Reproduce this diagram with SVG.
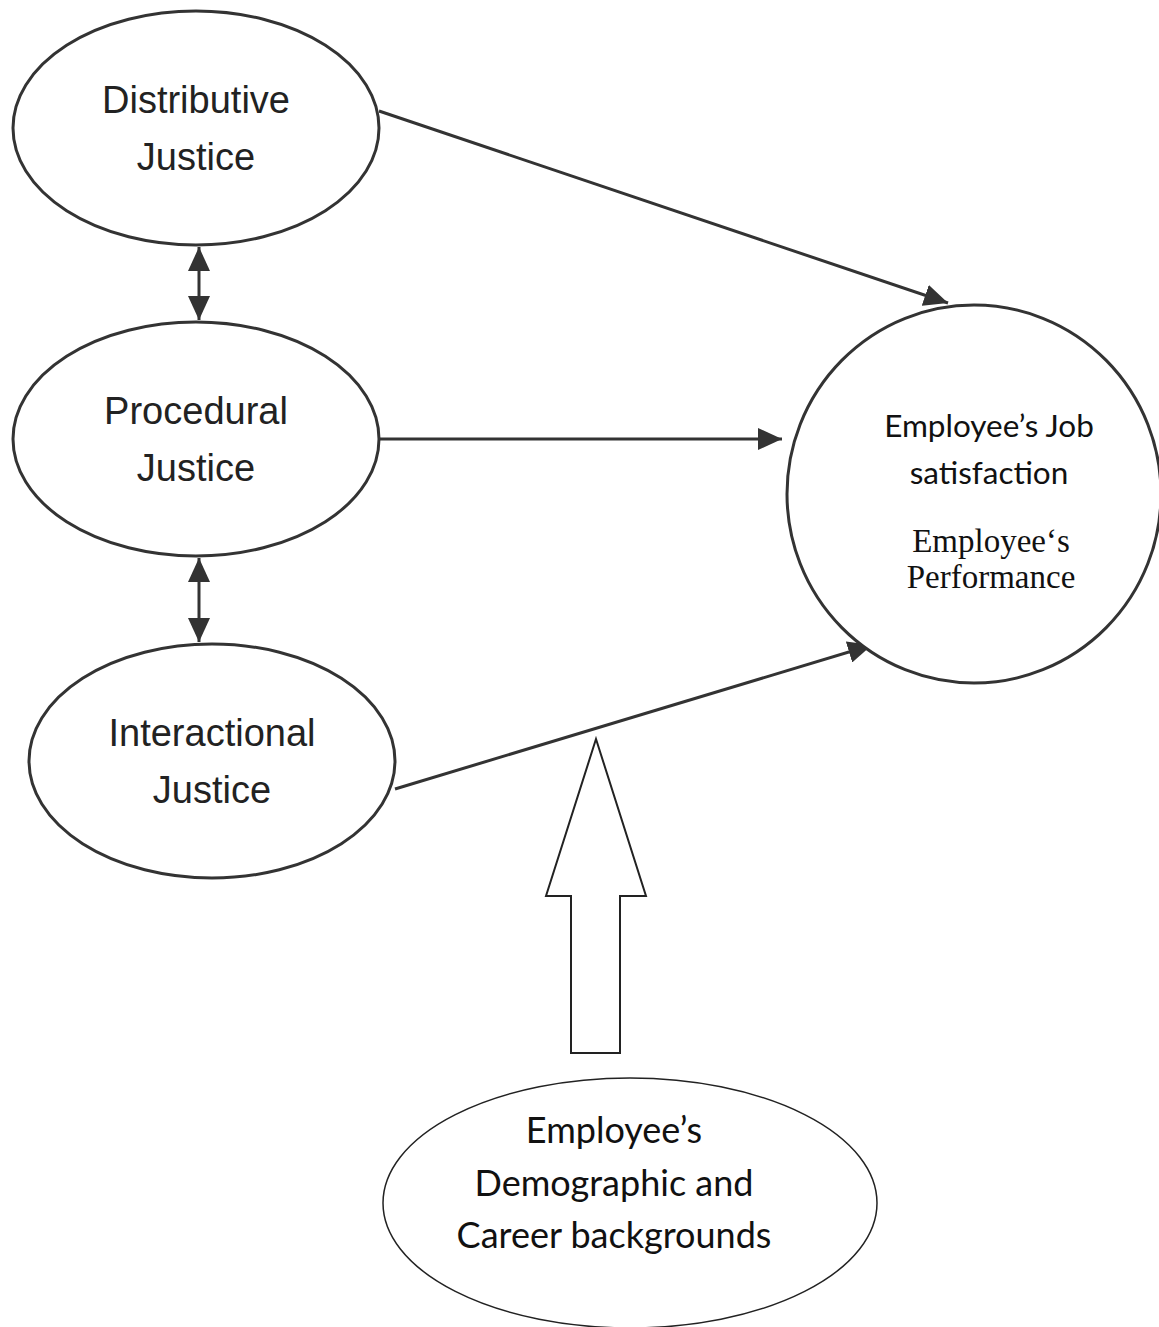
<svg xmlns="http://www.w3.org/2000/svg" width="1159" height="1327" viewBox="0 0 1159 1327">
<style>
.node{fill:#fff;stroke:#333;stroke-width:3}
.sans{font-family:"Liberation Sans",Arial,sans-serif;font-size:38px;fill:#222;text-anchor:middle}
.cal{font-family:Lato,"Open Sans",sans-serif;font-size:31.5px;fill:#111;text-anchor:middle}
.ser{font-family:"Liberation Serif","Times New Roman",serif;font-size:33px;fill:#111;text-anchor:middle}
.cal2{font-family:Lato,"Open Sans",sans-serif;font-size:36px;fill:#111;text-anchor:middle}
.conn{stroke:#333;stroke-width:3;fill:none}
</style>
<defs>
<marker id="ah" markerUnits="userSpaceOnUse" markerWidth="26" markerHeight="22" refX="24" refY="11" orient="auto-start-reverse">
<path d="M0,0 L24,11 L0,22 Z" fill="#333"/>
</marker>
</defs>
<rect width="1159" height="1327" fill="#fff"/>
<g id="connectors">
<line class="conn" x1="379" y1="111" x2="948" y2="303" marker-end="url(#ah)"/>
<line class="conn" x1="379" y1="439" x2="782" y2="439" marker-end="url(#ah)"/>
<line class="conn" x1="395" y1="789" x2="872" y2="645" marker-end="url(#ah)"/>
<line class="conn" x1="199" y1="247" x2="199" y2="320" marker-start="url(#ah)" marker-end="url(#ah)"/>
<line class="conn" x1="199" y1="558" x2="199" y2="642" marker-start="url(#ah)" marker-end="url(#ah)"/>
<polygon points="596,739 646,896 620,896 620,1053 571,1053 571,896 546,896" fill="#fff" stroke="#222" stroke-width="2"/>
</g>
<g id="distributive">
<ellipse class="node" cx="196" cy="128" rx="183" ry="117"/>
<text class="sans" x="196" y="113">Distributive</text>
<text class="sans" x="196" y="170">Justice</text>
</g>
<g id="procedural">
<ellipse class="node" cx="196" cy="439" rx="183" ry="117"/>
<text class="sans" x="196" y="424">Procedural</text>
<text class="sans" x="196" y="481">Justice</text>
</g>
<g id="interactional">
<ellipse class="node" cx="212" cy="761" rx="183" ry="117"/>
<text class="sans" x="212" y="746">Interactional</text>
<text class="sans" x="212" y="803">Justice</text>
</g>
<g id="outcomes">
<ellipse class="node" cx="974" cy="494" rx="187" ry="189"/>
<text class="cal" x="989" y="437">Employee’s Job</text>
<text class="cal" x="989" y="484">satisfaction</text>
<text class="ser" x="991" y="552">Employee‘s</text>
<text class="ser" x="991" y="588">Performance</text>
</g>
<g id="demographics">
<ellipse cx="630" cy="1203" rx="247" ry="125" fill="#fff" stroke="#222" stroke-width="1.5"/>
<text class="cal2" x="614" y="1143">Employee’s</text>
<text class="cal2" x="614" y="1196">Demographic and</text>
<text class="cal2" x="614" y="1248">Career backgrounds</text>
</g>
</svg>
